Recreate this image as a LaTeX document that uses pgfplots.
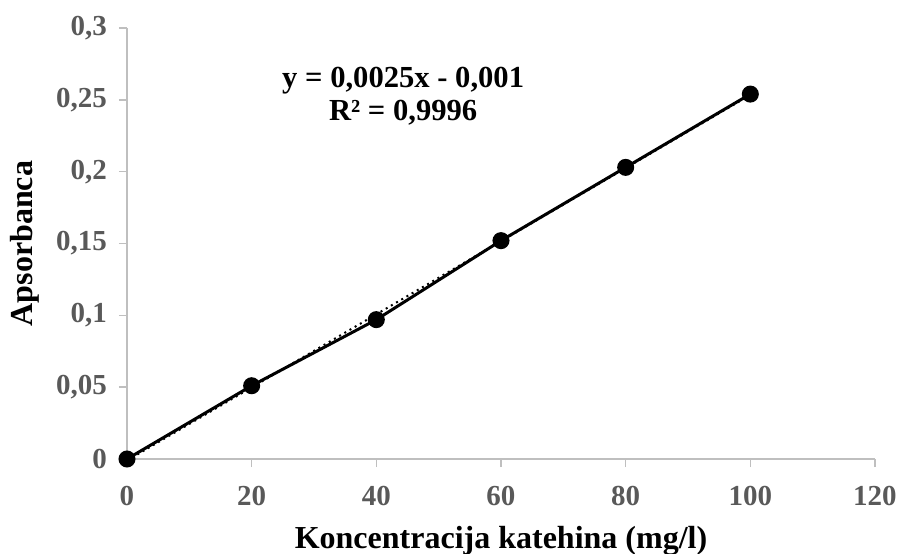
\documentclass[border=0pt]{standalone}
\usepackage{pgfplots}
\pgfplotsset{compat=1.18}
\usepackage{fontspec}
\setmainfont{Liberation Serif}
\definecolor{ticklab}{HTML}{595959}
\definecolor{axgray}{HTML}{BFBFBF}
\begin{document}
\begin{tikzpicture}[x=1pt,y=1pt]
\path[use as bounding box] (-63.5,-47) rectangle (387,229.5);
\begin{axis}[
  at={(0,0)}, anchor=origin,
  scale only axis, width=374pt, height=215.5pt,
  xmin=0, xmax=120, ymin=0, ymax=0.3,
  axis lines*=left,
  axis line style={axgray, line width=0.75pt, -},
  xtick={0,20,...,120},
  ytick={0,0.05,0.1,0.15,0.2,0.25,0.3},
  yticklabels={0,{0,05},{0,1},{0,15},{0,2},{0,25},{0,3}},
  tick style={axgray, line width=0.75pt},
  tick align=outside, major tick length=4pt,
  tick label style={font=\fontsize{14.5}{16}\selectfont\bfseries, text=ticklab},
  /pgf/number format/assume math mode=true,
  xticklabel style={yshift=-6pt},
  yticklabel style={xshift=-2.5pt},
  xlabel={Koncentracija katehina (mg/l)},
  ylabel={Apsorbanca},
  label style={font=\fontsize{16}{18}\selectfont\bfseries},
  xlabel style={at={(axis description cs:0.5,-0.2088)}, anchor=base},
  ylabel style={at={(axis description cs:-0.1257,0.5)}, anchor=base},
  clip=false,
]
\addplot[black, line width=1.5pt, mark=*, mark size=3.5pt] coordinates {
  (0,0) (20,0.051) (40,0.097) (60,0.152) (80,0.203) (100,0.254)
};
\addplot[black, line width=1pt, dotted] coordinates {
  (0,-0.00105) (100,0.2534)
};
\node[align=center, font=\fontsize{15.3}{16.5}\selectfont\bfseries] at (axis cs:44.3,0.2525)
  {y = 0,0025x - 0,001\\R² = 0,9996};
\end{axis}
\end{tikzpicture}
\end{document}
